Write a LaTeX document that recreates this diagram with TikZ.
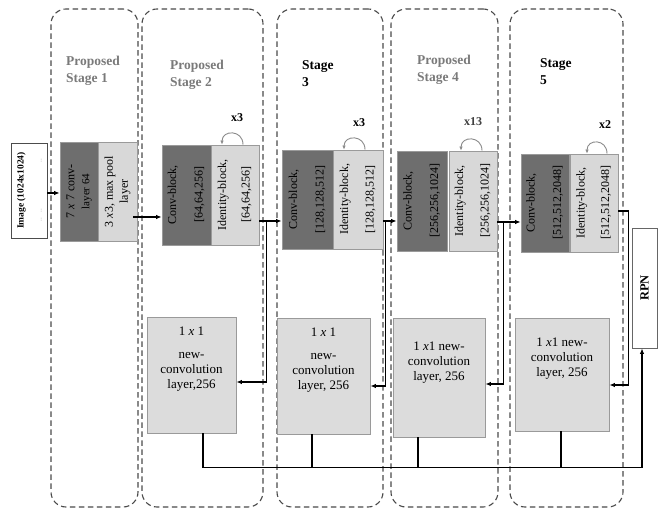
\documentclass[tikz,border=0pt]{standalone}
\usepackage{fontspec}
\setmainfont{Liberation Serif}
\usepackage{graphicx}
\usetikzlibrary{arrows.meta}
\definecolor{cDark}{HTML}{6E6E6E}
\definecolor{cLight}{HTML}{D8D8D8}
\definecolor{cConv}{HTML}{DCDCDC}
\definecolor{cEdge}{HTML}{9A9A9A}
\definecolor{cTitle}{HTML}{7A7A7A}
\definecolor{cPanel}{HTML}{4A4A4A}
\definecolor{cLoop}{HTML}{8C8C8C}

% two rotated lines inside a block
\newcommand{\blocktxt}[3]{\rotatebox{90}{\begin{tabular}{@{}c@{}}#2\\[#1]{#3}\end{tabular}}}
% top aligned text in a 1x1 box
\newcommand{\convtxt}[3]{\parbox[c][#1][t]{86pt}{\vspace*{#2}\centering #3}}

\begin{document}
\begin{tikzpicture}[x=1pt,y=-1pt,
  every node/.style={inner sep=0pt},
  panel/.style={draw=cPanel, dash pattern=on 5.5pt off 3.5pt, line width=1.1pt, rounded corners=15pt, minimum width=#1, minimum height=498pt},
  title/.style={font=\bfseries\fontsize{13.5}{17}\selectfont, align=left, anchor=north west},
  darkblk/.style 2 args={fill=cDark, draw=cEdge, line width=0.8pt, minimum width=#1, minimum height=#2, font=\fontsize{12}{14.4}\selectfont},
  lightblk/.style 2 args={fill=cLight, draw=cEdge, line width=0.8pt, minimum width=#1, minimum height=#2, font=\fontsize{12}{14.4}\selectfont},
  newconv/.style 2 args={fill=cConv, draw=cEdge, line width=0.8pt, minimum width=#1, minimum height=#2, font=\fontsize{13}{15}\selectfont},
  rep/.style={font=\bfseries\fontsize{12}{14}\selectfont},
  loop/.style={draw=cLoop, line width=0.9pt, -{Latex[length=4pt,width=3.5pt]}},
  link/.style={line width=1.3pt, -{Latex[length=5.5pt,width=4.5pt]}},
  bus/.style={line width=1.3pt},
]

\useasboundingbox[fill=white] (0,0) rectangle (658,510);

% stage panels
\node[panel=87pt] (st1) at (94.5,258) {};
\node[panel=121pt] (st2) at (202.5,258) {};
\node[panel=106pt] (st3) at (330,258) {};
\node[panel=107pt] (st4) at (444.5,258) {};
\node[panel=113pt] (st5) at (566.5,258) {};

\node[title, text=cTitle] (t1) at (66,56) {Proposed\\Stage 1};
\node[title, text=cTitle] (t2) at (170,60) {Proposed\\Stage 2};
\node[title] (t3) at (302,60) {Stage\\3};
\node[title, text=cTitle] (t4) at (417,55) {Proposed\\Stage 4};
\node[title] (t5) at (540,58) {Stage\\5};

% input and output
\node[draw=black!70, fill=white, line width=0.8pt, minimum width=34pt, minimum height=95pt,
  font=\bfseries\fontsize{9.5}{18}\selectfont] (img) at (29,190.5)
  {\rotatebox{90}{\begin{tabular}{@{}c@{}}Image (1024x1024)\\{\mdseries\fontsize{7}{8}\selectfont\color{black!35}..\hspace{6pt}..\hspace{46pt}..}\end{tabular}}};
\node[draw=black!60, fill=white, line width=0.8pt, minimum width=25pt, minimum height=120pt,
  font=\bfseries\fontsize{12.5}{14}\selectfont] (rpn) at (644.5,288) {\rotatebox{90}{RPN}};

% stage 1
\node[darkblk={38pt}{99pt}] (c1) at (79,191.5) {\blocktxt{0.5pt}{7 \textit{x} 7 conv-}{{\fontsize{11}{13}\selectfont layer 64}}};
\node[lightblk={39pt}{99pt}] (p1) at (117.5,191.5) {\blocktxt{0.5pt}{3 \textit{x}3, max pool}{layer}};

% stage 2
\node[darkblk={49pt}{100pt}] (c2) at (186.5,195) {\blocktxt{12pt}{Conv-block,}{[64,64,256]}};
\node[lightblk={48pt}{100pt}] (i2) at (235,195) {\blocktxt{9pt}{Identity-block,}{[64,64,256]}};
\draw[loop] ([xshift=8pt]i2.north) .. controls +(0,-15) and +(0,-15) .. ([xshift=-13pt]i2.north);
\node[rep] (r2) at (237,118) {x3};

% stage 3
\node[darkblk={51pt}{99pt}] (c3) at (307.5,199.5) {\blocktxt{12pt}{Conv-block,}{[128,128,512]}};
\node[lightblk={50pt}{99pt}] (i3) at (358,199.5) {\blocktxt{11pt}{Identity-block,}{[128,128,512]}};
\draw[loop] ([xshift=7pt]i3.north) .. controls +(0,-15) and +(0,-15) .. ([xshift=-14pt]i3.north);
\node[rep] (r3) at (359,123) {x3};

% stage 4
\node[darkblk={50pt}{100pt}] (c4) at (422,201) {\blocktxt{12pt}{Conv-block,}{[256,256,1024]}};
\node[lightblk={48pt}{100pt}] (i4) at (473,201) {\blocktxt{11pt}{Identity-block,}{[256,256,1024]}};
\draw[loop] ([xshift=9pt]i4.north) .. controls +(0,-15) and +(0,-15) .. ([xshift=-12pt]i4.north);
\node[rep, text=black!75] (r4) at (473,122) {x13};

% stage 5
\node[darkblk={48pt}{98pt}] (c5) at (545,203) {\blocktxt{12pt}{Conv-block,}{[512,512,2048]}};
\node[lightblk={48pt}{98pt}] (i5) at (594,203) {\blocktxt{10pt}{Identity-block,}{[512,512,2048]}};
\draw[loop] ([xshift=13pt]i5.north) .. controls +(0,-15) and +(0,-15) .. ([xshift=-7pt]i5.north);
\node[rep] (r5) at (605,125) {x2};

% 1x1 layers
\node[newconv={89pt}{116pt}] (n2) at (191.5,375) {\convtxt{116pt}{10pt}{1 \textit{x} 1\\[8pt]new-\\convolution\\layer,256}};
\node[newconv={93pt}{116pt}] (n3) at (323.5,376) {\convtxt{116pt}{10pt}{1 \textit{x} 1\\[8pt]new-\\convolution\\layer, 256}};
\node[newconv={92pt}{119pt}] (n4) at (439,377.5) {\convtxt{119pt}{24pt}{1 \textit{x}1 new-\\convolution\\layer, 256}};
\node[newconv={94pt}{113pt}] (n5) at (562,374.5) {\convtxt{113pt}{20pt}{1 \textit{x}1 new-\\convolution\\layer, 256}};

% main path
\draw[link] ([yshift=-2.5pt]img.east) -- ([yshift=-1.5pt]c1.west);
\draw[link] ([xshift=-4pt,yshift=-25.5pt]p1.east) -- ([yshift=-22pt]c2.west);
\draw[link] ([yshift=-26pt]i2.east) -- ([yshift=-21.5pt]c3.west);
\draw[link] ([yshift=-21.5pt]i3.east) -- ([yshift=-20pt]c4.west);
\draw[link] ([yshift=-21pt]i4.east) -- ([yshift=-19pt]c5.west);

% branches down to the 1x1 layers
\coordinate (j2) at ([xshift=7pt,yshift=-26pt]i2.east);
\coordinate (j3) at ([xshift=2pt,yshift=-21.5pt]i3.east);
\coordinate (j4) at ([xshift=6pt,yshift=-21pt]i4.east);
\coordinate (k5) at ([xshift=10pt,yshift=-8pt]i5.east);
\draw[link] (j2) |- ([yshift=-7pt]n2.east);
\draw[link] (j3) |- ([yshift=-10pt]n3.east);
\draw[link] (j4) |- ([yshift=-6.5pt]n4.east);
\draw[link] ([yshift=-8pt]i5.east) -- (k5) |- ([yshift=-10.5pt]n5.east);

% collecting line to RPN
\coordinate (bus) at ([xshift=11.5pt,yshift=-34pt]n2.south);
\draw[bus] ([xshift=-11.5pt]n3.south) |- (bus);
\draw[bus] ([xshift=-21pt]n4.south) |- (bus);
\draw[bus] ([xshift=-1pt]n5.south) |- (bus);
\draw[link] ([xshift=11.5pt]n2.south) -- (bus) -| ([xshift=-2.5pt]rpn.south);

\end{tikzpicture}
\end{document}
